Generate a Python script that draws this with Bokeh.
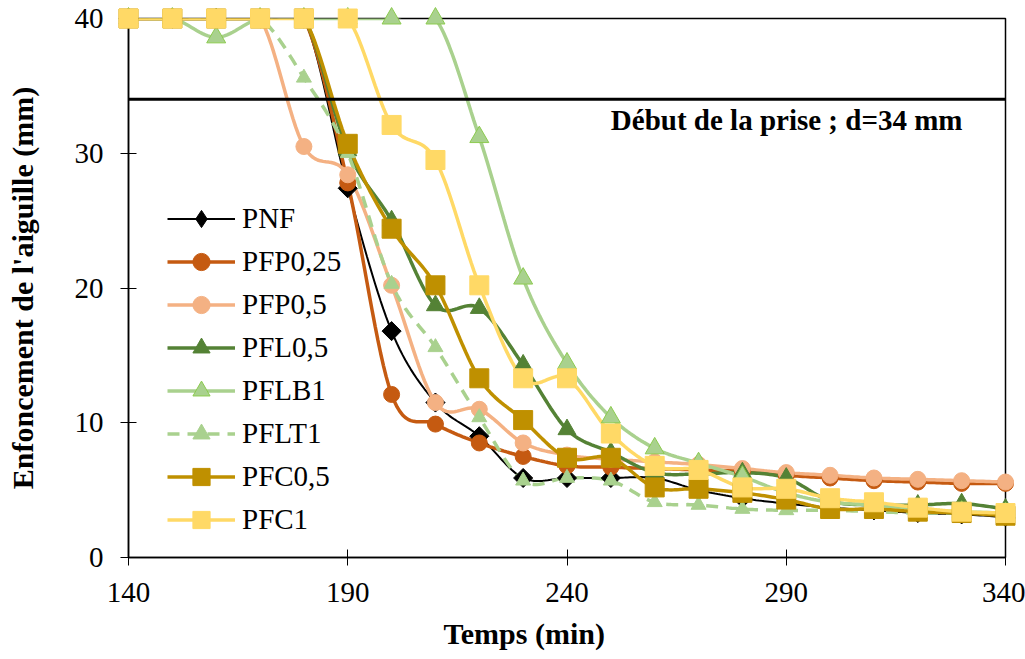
from bokeh.plotting import figure
from bokeh.models import Span, Label, FixedTicker, Range1d, Legend, LegendItem, Title
from bokeh.embed import file_html
from bokeh.resources import INLINE

# ---------------- data ----------------
temps = [140, 150, 160, 170, 180, 190, 200, 210, 220, 230, 240,
         250, 260, 270, 280, 290, 300, 310, 320, 330, 340]

pnf      = [40, 40, 40, 40, 40, 27.4, 16.8, 11.5, 9.0, 5.9, 5.9,
            5.9, 5.9, 5.0, 4.4, 4.0, 3.7, 3.5, 3.3, 3.2, 3.0]
pfp025   = [40, 40, 40, 40, 40, 27.8, 12.1, 9.9, 8.5, 7.5, 6.8,
            6.7, 6.6, 6.5, 6.4, 6.1, 5.9, 5.7, 5.6, 5.5, 5.5]
pfp05    = [40, 40, 40, 40, 30.5, 28.4, 20.2, 11.5, 11.0, 8.5, 7.6,
            7.3, 7.1, 6.9, 6.6, 6.3, 6.1, 5.9, 5.8, 5.7, 5.6]
pfl05    = [40, 40, 40, 40, 40, 30.2, 25.0, 18.7, 18.5, 14.3, 9.5,
            7.8, 6.3, 6.2, 6.3, 5.9, 4.2, 3.9, 3.9, 4.0, 3.6]
pflb1    = [40, 40, 38.6, 40, 40, 40, 40, 40, 31.2, 20.7, 14.4,
            10.4, 8.1, 7.0, 6.0, 4.8, 4.1, 3.9, 3.6, 3.4, 3.3]
pflt1    = [40, 40, 40, 40, 35.6, 30.0, 20.3, 15.6, 10.4, 5.7, 5.9,
            5.7, 4.1, 3.9, 3.6, 3.5, 3.5, 3.4, 3.3, 3.3, 3.2]
pfc05    = [40, 40, 40, 40, 40, 30.7, 24.4, 20.2, 13.3, 10.2, 7.4,
            7.4, 5.2, 5.1, 4.8, 4.3, 3.6, 3.6, 3.4, 3.3, 3.1]
pfc1     = [40, 40, 40, 40, 40, 40, 32.1, 29.5, 20.2, 13.3, 13.3,
            9.2, 6.8, 6.5, 5.2, 5.1, 4.4, 4.1, 3.7, 3.4, 3.3]

series_names = ["PNF", "PFP0,25", "PFP0,5", "PFL0,5", "PFLB1", "PFLT1", "PFC0,5", "PFC1"]

x_ticks = [140, 190, 240, 290, 340]
y_ticks = [0, 10, 20, 30, 40]
threshold = 34
threshold_text = "Début de la prise ; d=34 mm"
x_title = "Temps (min)"
y_title = "Enfoncement de l'aiguille (mm)"

FONT = "Liberation Serif"


def smooth_path(xs, ys, n=16):
    """Smoothed rendering (Excel-like Bezier) of a series through its points."""
    pts = list(zip(xs, ys))
    ox, oy = [], []
    for i in range(len(pts) - 1):
        p0 = pts[i - 1] if i > 0 else pts[i]
        p1 = pts[i]
        p2 = pts[i + 1]
        p3 = pts[i + 2] if i + 2 < len(pts) else pts[i + 1]
        c1 = (p1[0] + (p2[0] - p0[0]) / 6.0, p1[1] + (p2[1] - p0[1]) / 6.0)
        c2 = (p2[0] - (p3[0] - p1[0]) / 6.0, p2[1] - (p3[1] - p1[1]) / 6.0)
        for k in range(n):
            t = k / n
            u = 1 - t
            bx = u**3 * p1[0] + 3 * u * u * t * c1[0] + 3 * u * t * t * c2[0] + t**3 * p2[0]
            by = u**3 * p1[1] + 3 * u * u * t * c1[1] + 3 * u * t * t * c2[1] + t**3 * p2[1]
            ox.append(bx)
            oy.append(by)
    ox.append(pts[-1][0])
    oy.append(pts[-1][1])
    return ox, oy


p = figure(width=1025, height=659, output_backend="svg", toolbar_location=None,
           x_range=Range1d(140, 340), y_range=Range1d(0, 40),
           min_border_left=128, min_border_right=20,
           min_border_top=18, min_border_bottom=102)
p.xgrid.visible = False
p.ygrid.visible = False
p.outline_line_color = "black"
p.outline_line_width = 1.5
p.outline_line_alpha = 1.0
p.background_fill_color = "white"
p.border_fill_color = "white"

for ax in (p.xaxis[0], p.yaxis[0]):
    ax.axis_line_width = 1.5
    ax.axis_line_color = "black"
    ax.major_tick_line_color = "black"
    ax.major_tick_line_width = 1
    ax.major_tick_in = 8
    ax.major_tick_out = 8
    ax.minor_tick_line_color = None
    ax.major_label_text_font = FONT
    ax.major_label_text_font_size = "29px"
    ax.major_label_text_color = "black"
    ax.axis_label_text_font = FONT
    ax.axis_label_text_font_size = "30px"
    ax.axis_label_text_font_style = "bold"
    ax.axis_label_text_color = "black"

p.xaxis.ticker = FixedTicker(ticks=x_ticks)
p.yaxis.ticker = FixedTicker(ticks=y_ticks)
p.yaxis.axis_label = y_title
p.xaxis.major_label_standoff = 17
p.yaxis.major_label_standoff = 17
p.yaxis.axis_label_standoff = 33

# x-axis title sits left of the frame centre in the reference
xt = Title(text=x_title, align="left", offset=315, text_font=FONT, text_font_size="30px",
           text_font_style="bold", text_color="black", standoff=20)
p.add_layout(xt, "below")

styles = [
    # name, data, line color, line width, dash, marker, size, fill, marker line, angle, legend marker
    ("PNF", pnf, "black", 2, "solid", "square", 13.5, "black", "black", 0.785398, "diamond"),
    ("PFP0,25", pfp025, "#C55A11", 3.5, "solid", "circle", 16, "#C55A11", "#C55A11", 0, None),
    ("PFP0,5", pfp05, "#F4B183", 3.5, "solid", "circle", 16, "#F4B183", "#F4B183", 0, None),
    ("PFL0,5", pfl05, "#548235", 3.5, "solid", "triangle", 18, "#548235", "#548235", 0, None),
    ("PFLB1", pflb1, "#A9D18E", 3.5, "solid", "triangle", 19, "#A9D18E", "#8CCB4F", 0, None),
    ("PFLT1", pflt1, "#A9D18E", 3.5, "12 8", "triangle", 15, "#A9D18E", "#A9D18E", 0, None),
    ("PFC0,5", pfc05, "#BF9000", 3.5, "solid", "square", 19, "#BF9000", "#BF9000", 0, None),
    ("PFC1", pfc1, "#FFD966", 3.5, "solid", "square", 19, "#FFD966", "#FFD966", 0, None),
]

items = []
for name, ys, col, lw, dash, mk, sz, fill, mline, ang, lmk in styles:
    sx, sy = smooth_path(temps, ys)
    rl = p.line(sx, sy, line_color=col, line_width=lw, line_dash=dash)
    rm = p.scatter(temps, ys, marker=mk, size=sz, fill_color=fill, line_color=mline,
                   line_width=1, angle=ang)
    rm.level = "annotation"
    if lmk is not None:
        # legend-only marker (size 0 in the plot; the legend draws its own size)
        rk = p.scatter(temps, ys, marker=lmk, size=0, fill_color=fill, line_color=mline,
                       line_width=1)
        items.append(LegendItem(label=name, renderers=[rl, rk]))
    else:
        items.append(LegendItem(label=name, renderers=[rl, rm]))

p.add_layout(Span(location=threshold, dimension="width", line_color="black", line_width=3))
p.add_layout(Label(x=250, y=32.5, text=threshold_text, text_font=FONT, text_font_size="29px",
                   text_font_style="bold", text_color="black", text_baseline="alphabetic"))

lg = Legend(items=items)
lg.location = (39, 16)
lg.padding = 0
lg.margin = 0
lg.border_line_color = None
lg.background_fill_alpha = 0
lg.glyph_width = 68
lg.glyph_height = 43
lg.label_height = 43
lg.spacing = 0
lg.label_standoff = 7
lg.label_text_font = FONT
lg.label_text_font_size = "29px"
lg.label_text_color = "black"
p.add_layout(lg, "center")

open("out.html", "w").write(file_html(p, INLINE))
